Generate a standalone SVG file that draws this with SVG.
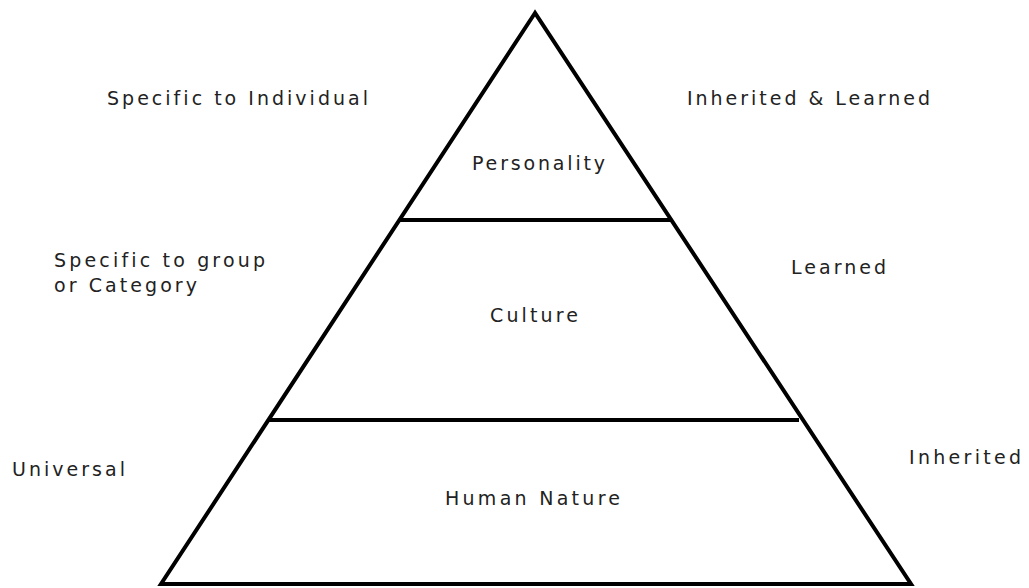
<svg xmlns="http://www.w3.org/2000/svg" width="1029" height="588" viewBox="0 0 1029 588">
  <style>
    .t { font-family: "DejaVu Sans", Verdana, sans-serif; font-size: 19px; fill: #222; font-variant-ligatures: none; }
    .ln { stroke: #000; stroke-width: 4; fill: none; }
  </style>
  <rect width="1029" height="588" fill="#fff"/>
  <g id="pyramid">
    <polygon class="ln" points="535,13 161,584 911,584" stroke-linejoin="miter"/>
  </g>
  <g id="dividers">
    <line class="ln" x1="400" y1="220" x2="672" y2="220"/>
    <line class="ln" x1="269" y1="420" x2="799" y2="420"/>
  </g>
  <g id="personality">
    <text class="t" x="472" y="170" textLength="133" lengthAdjust="spacing">Personality</text>
  </g>
  <g id="culture">
    <text class="t" x="490" y="322" textLength="88" lengthAdjust="spacing">Culture</text>
  </g>
  <g id="human-nature">
    <text class="t" x="445" y="505" textLength="175" lengthAdjust="spacing">Human Nature</text>
  </g>
  <g id="left-labels">
    <text class="t" x="107" y="105" textLength="261" lengthAdjust="spacing">Specific to Individual</text>
    <text class="t" x="54" y="267" textLength="211" lengthAdjust="spacing">Specific to group</text>
    <text class="t" x="54" y="292" textLength="143" lengthAdjust="spacing">or Category</text>
    <text class="t" x="12" y="476" textLength="113" lengthAdjust="spacing">Universal</text>
  </g>
  <g id="right-labels">
    <text class="t" x="687" y="105" textLength="243" lengthAdjust="spacing">Inherited &amp; Learned</text>
    <text class="t" x="791" y="274" textLength="95" lengthAdjust="spacing">Learned</text>
    <text class="t" x="909" y="464" textLength="112" lengthAdjust="spacing">Inherited</text>
  </g>
</svg>
